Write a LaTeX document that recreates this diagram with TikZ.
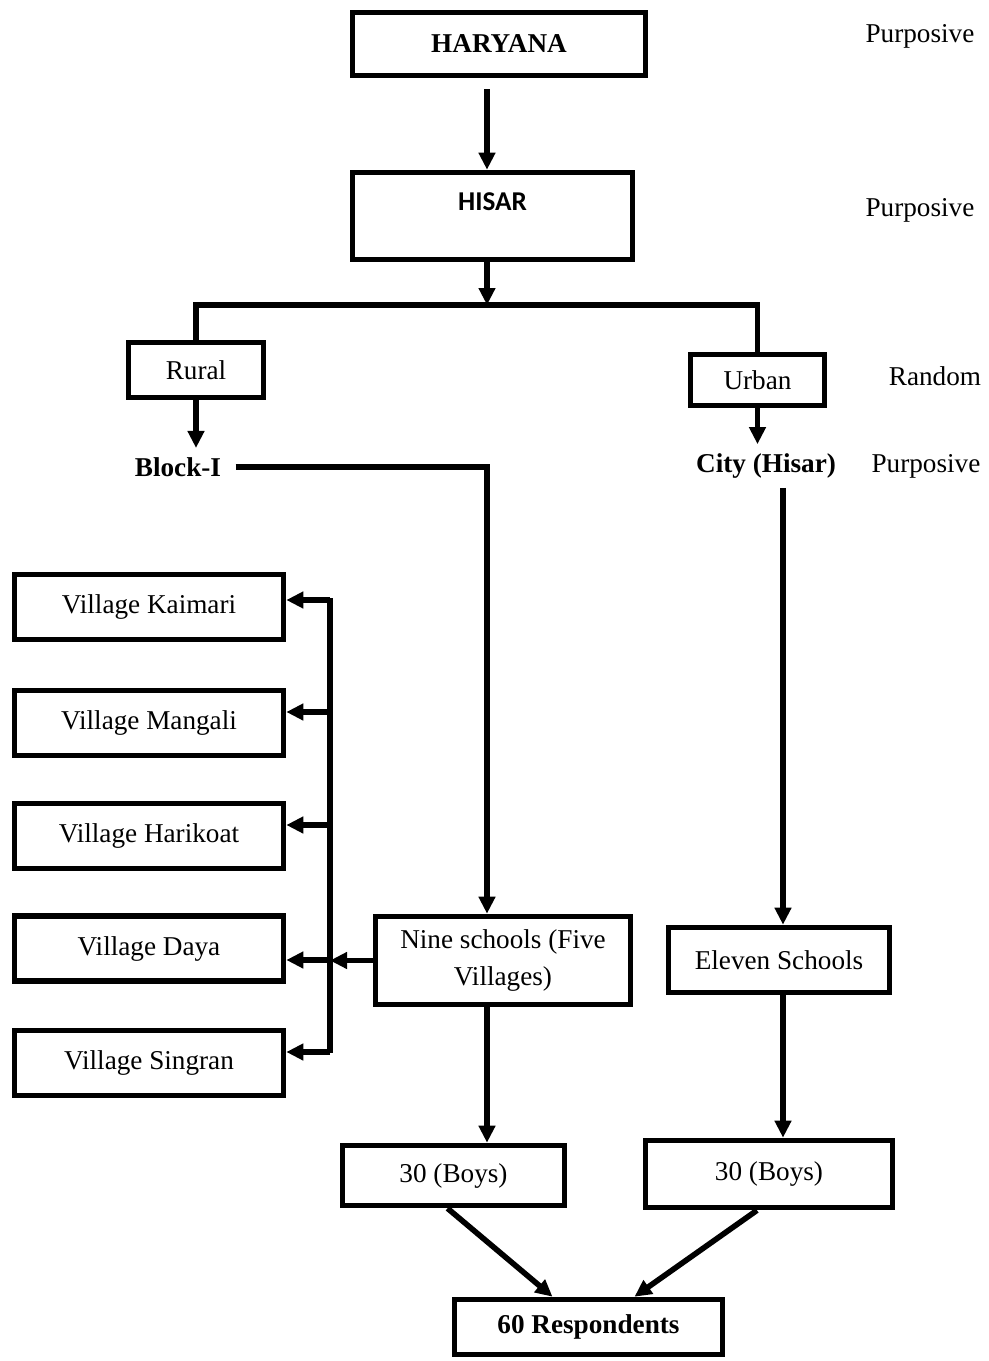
\documentclass[tikz,border=0pt]{standalone}
\usepackage{fontspec}
\setmainfont{Liberation Serif}
\newfontfamily\calibri{Carlito}
\usetikzlibrary{arrows.meta,calc,positioning}

\begin{document}
\begin{tikzpicture}[x=0.5pt,y=-0.5pt,line width=2.8pt,
  every node/.style={font=\fontsize{13.6}{18.5}\selectfont},
  box/.style={draw,rectangle,inner sep=2pt,align=center},
  vbox/.style={box,minimum width=134.5pt,minimum height=32.5pt},
  tag/.style={font=\fontsize{13.6}{18.5}\selectfont\bfseries},
  arr/.style={-{Triangle[length=8.5pt,width=8pt]}}]
\useasboundingbox (0,0) rectangle (989,1361);
\node[box,minimum width=146.5pt,minimum height=31.5pt] (haryana) at (499,44) {\textbf{HARYANA}};
\node[box,minimum width=140pt,minimum height=43.5pt,text depth=14pt] (hisar) at (492.5,216) {\calibri\bfseries HISAR};
\node[box,minimum width=67.5pt,minimum height=27.5pt] (rural) at (196,370) {Rural};
\node[box,minimum width=67pt,minimum height=25.5pt] (urban) at (757.5,380) {Urban};
\node[tag,outer xsep=4pt] (blocki) at (178,467) {Block-I};
\node[tag] (city) at (766,466) {City (Hisar)};
\node (s1) at (920,36) {Purposive};
\node (s2) at (920,210) {Purposive};
\node (s3) at (935,376) {Random};
\node (s4) at (926,466) {Purposive};
\node[box,minimum width=127.5pt,minimum height=44pt] (nine) at (503,960.5) {Nine schools (Five\\Villages)};
\node[box,minimum width=110.5pt,minimum height=32.5pt] (eleven) at (779,960) {Eleven Schools};
\node[box,minimum width=111pt,minimum height=30pt] (boysl) at (453.5,1175.5) {30 (Boys)};
\node[box,minimum width=123.5pt,minimum height=33.5pt] (boysr) at (769,1174) {30 (Boys)};
\node[box,minimum width=134pt,minimum height=27.5pt] (resp) at (588.5,1327) {\textbf{60 Respondents}};
\coordinate (top) at (487,89);
\coordinate (split) at (487,305);
\coordinate (bust) at (330,598);
\coordinate (busb) at (330,1053);
\draw[arr] (top) -- (top |- hisar.north);
\draw[arr] (split |- hisar.south) -- (split);
\draw (rural.north) |- (split) -| (urban.north);
\draw[arr] (rural.south) -- (rural.south |- blocki.north);
\draw[arr] (urban.south) -- (urban.south |- city.north);
\draw[arr] (blocki.east) -| (split |- nine.north);
\draw[arr] ([xshift=2pt]eleven.north |- city.south) -- ([xshift=2pt]eleven.north);
\draw (bust) -- (busb);
\foreach \name/\txt/\y/\dy in {kaimari/Kaimari/607/3.5,mangali/Mangali/723/5.5,harikoat/Harikoat/836/5.5,daya/Daya/948.5/-5.75,singran/Singran/1063/5.5}{
  \node[vbox] (\name) at (149,\y) {Village \txt};
  \draw[arr] ($(\name.east -| bust)+(0,\dy pt)$) -- ($(\name.east)+(0,\dy pt)$);
}
\draw[arr] (nine.west) -- (nine.west -| bust);
\draw[arr] (split |- nine.south) -- (split |- boysl.north);
\draw[arr] ([xshift=2pt]eleven.south) -- ([xshift=2pt]eleven.south |- boysr.north);
\draw[arr] ([xshift=-3pt]boysl.south) -- ([xshift=-18pt]resp.north);
\draw[arr] ([xshift=-6pt]boysr.south) -- ([xshift=23pt]resp.north);
\end{tikzpicture}
\end{document}
